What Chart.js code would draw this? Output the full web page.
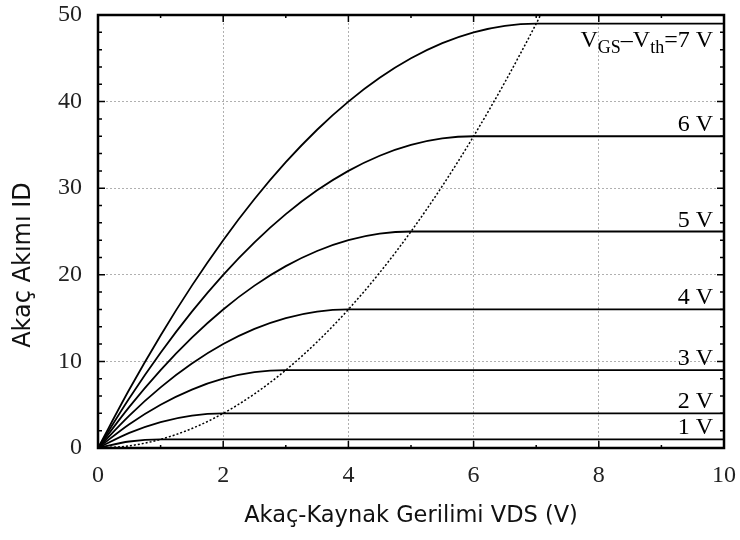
<!DOCTYPE html>
<html>
<head>
<meta charset="utf-8">
<script src="https://cdn.jsdelivr.net/npm/chart.js@4.4.1/dist/chart.umd.min.js"></script>
<style>
    html, body { margin: 0; padding: 0; background: #fff; }
    #wrap { width: 740px; height: 540px; }
</style>
</head>
<body>
<div id="wrap"><canvas id="chart"></canvas></div>
<script>
// VDS değerleri (V) - eğrilerin okunduğu noktalar
const vds = [0, 0.5, 1, 1.5, 2, 2.5, 3, 3.5, 4, 4.5, 5, 5.5, 6, 6.5, 7, 10];

// ID değerleri, her VGS-Vth için
const id1 = [0, 0.75, 1, 1, 1, 1, 1, 1, 1, 1, 1, 1, 1, 1, 1, 1];
const id2 = [0, 1.75, 3, 3.75, 4, 4, 4, 4, 4, 4, 4, 4, 4, 4, 4, 4];
const id3 = [0, 2.75, 5, 6.75, 8, 8.75, 9, 9, 9, 9, 9, 9, 9, 9, 9, 9];
const id4 = [0, 3.75, 7, 9.75, 12, 13.75, 15, 15.75, 16, 16, 16, 16, 16, 16, 16, 16];
const id5 = [0, 4.75, 9, 12.75, 16, 18.75, 21, 22.75, 24, 24.75, 25, 25, 25, 25, 25, 25];
const id6 = [0, 5.75, 11, 15.75, 20, 23.75, 27, 29.75, 32, 33.75, 35, 35.75, 36, 36, 36, 36];
const id7 = [0, 6.75, 13, 18.75, 24, 28.75, 33, 36.75, 40, 42.75, 45, 46.75, 48, 48.75, 49, 49];

// Doyma sınırı (noktalı eğri)
const sinirVds = [0, 0.5, 1, 1.5, 2, 2.5, 3, 3.5, 4, 4.5, 5, 5.5, 6, 6.5, 7, 7.07];
const sinirId = [0, 0.25, 1, 2.25, 4, 6.25, 9, 12.25, 16, 20.25, 25, 30.25, 36, 42.25, 49, 50];

const egriler = [id1, id2, id3, id4, id5, id6, id7];
const etiketler = ['1 V', '2 V', '3 V', '4 V', '5 V', '6 V', '7 V'];
const doymaDegerleri = [1, 4, 9, 16, 25, 36, 49];

const xTicks = [0, 2, 4, 6, 8, 10];
const yTicks = [0, 10, 20, 30, 40, 50];

const serif = '"Liberation Serif", "Times New Roman", serif';
const sans = '"DejaVu Sans", Verdana, sans-serif';

function nokta(xs, ys) {
    return xs.map((x, i) => ({ x: x, y: ys[i] }));
}

const datasets = egriler.map((ys, i) => ({
    label: etiketler[i],
    data: nokta(vds, ys),
    borderColor: '#000',
    borderWidth: 1.8,
    pointRadius: 0,
    cubicInterpolationMode: 'monotone',
    fill: false
}));
datasets.push({
    label: 'sinir',
    data: nokta(sinirVds, sinirId),
    borderColor: '#000',
    borderWidth: 1.5,
    borderDash: [2, 2],
    pointRadius: 0,
    cubicInterpolationMode: 'monotone',
    fill: false
});

// Çerçeve, iç tikler, etiketler ve eksen başlıkları
const cizimEklentisi = {
    id: 'cizim',
    afterDatasetsDraw(chart) {
        const ctx = chart.ctx;
        const a = chart.chartArea;
        const xs = chart.scales.x;
        const ys = chart.scales.y;
        ctx.save();

        // iç tikler
        ctx.strokeStyle = '#000';
        ctx.lineWidth = 1.5;
        ctx.beginPath();
        for (let v = 1; v < 10; v++) {
            const px = xs.getPixelForValue(v);
            const len = v % 2 === 0 ? 7 : 3;
            ctx.moveTo(px, a.bottom); ctx.lineTo(px, a.bottom - len);
            ctx.moveTo(px, a.top); ctx.lineTo(px, a.top + len);
        }
        for (let v = 2; v < 50; v += 2) {
            const py = ys.getPixelForValue(v);
            const len = v % 10 === 0 ? 7 : 4;
            ctx.moveTo(a.left, py); ctx.lineTo(a.left + len, py);
            ctx.moveTo(a.right, py); ctx.lineTo(a.right - len, py);
        }
        ctx.stroke();

        // çerçeve
        ctx.lineWidth = 2.5;
        ctx.strokeRect(a.left, a.top, a.right - a.left, a.bottom - a.top);

        // eğri etiketleri
        ctx.fillStyle = '#000';
        ctx.textBaseline = 'alphabetic';
        const sagX = a.right - 11;
        ctx.font = '24px ' + serif;
        ctx.textAlign = 'right';
        for (let i = 0; i < 6; i++) {
            ctx.fillText(etiketler[i], sagX, ys.getPixelForValue(doymaDegerleri[i]) - 5);
        }
        // VGS-Vth=7 V
        const parcalar = [
            { t: 'V', sub: false },
            { t: 'GS', sub: true },
            { t: '\u2013V', sub: false },
            { t: 'th', sub: true },
            { t: '=' + etiketler[6], sub: false }
        ];
        const anaFont = '24px ' + serif;
        const altFont = '18px ' + serif;
        let toplam = 0;
        parcalar.forEach(p => {
            ctx.font = p.sub ? altFont : anaFont;
            p.w = ctx.measureText(p.t).width;
            toplam += p.w;
        });
        let x = sagX - toplam;
        const taban = ys.getPixelForValue(doymaDegerleri[6]) + 23;
        ctx.textAlign = 'left';
        parcalar.forEach(p => {
            ctx.font = p.sub ? altFont : anaFont;
            ctx.fillText(p.t, x, p.sub ? taban + 6 : taban);
            x += p.w;
        });

        // eksen başlıkları
        ctx.font = '22.5px ' + sans;
        ctx.fillStyle = '#111';
        ctx.textAlign = 'center';
        ctx.textBaseline = 'middle';
        ctx.fillText('Akaç-Kaynak Gerilimi VDS (V)', (a.left + a.right) / 2, 516);
        ctx.translate(24, 265);
        ctx.rotate(-Math.PI / 2);
        ctx.font = '24px ' + sans;
        ctx.fillText('Akaç Akımı ID', 0, 0);
        ctx.restore();
    }
};

new Chart(document.getElementById('chart'), {
    type: 'line',
    data: { datasets: datasets },
    options: {
        responsive: true,
        maintainAspectRatio: false,
        animation: false,
        layout: { padding: { top: 15, right: 16, left: 0, bottom: 0 } },
        plugins: {
            legend: { display: false },
            tooltip: { enabled: false }
        },
        scales: {
            x: {
                type: 'linear',
                min: 0,
                max: 10,
                afterFit: s => {
                    s.height = 92;
                    s.paddingLeft = 0;
                    s.paddingRight = 0;
                },
                afterBuildTicks: s => { s.ticks = xTicks.map(v => ({ value: v })); },
                ticks: {
                    font: { family: serif, size: 24 },
                    color: '#222',
                    padding: 13
                },
                grid: {
                    drawTicks: false,
                    color: ctx => (ctx.tick && (ctx.tick.value === 0 || ctx.tick.value === 10)) ? 'rgba(0,0,0,0)' : '#b0b0b0',
                    lineWidth: 1
                },
                border: { display: false, dash: [2, 2] }
            },
            y: {
                type: 'linear',
                min: 0,
                max: 50,
                afterFit: s => {
                    s.width = 98;
                    s.paddingTop = 0;
                    s.paddingBottom = 0;
                },
                afterBuildTicks: s => { s.ticks = yTicks.map(v => ({ value: v })); },
                ticks: {
                    font: { family: serif, size: 24 },
                    color: '#222',
                    padding: 16
                },
                grid: {
                    drawTicks: false,
                    color: ctx => (ctx.tick && (ctx.tick.value === 0 || ctx.tick.value === 50)) ? 'rgba(0,0,0,0)' : '#b0b0b0',
                    lineWidth: 1
                },
                border: { display: false, dash: [2, 2] }
            }
        }
    },
    plugins: [cizimEklentisi]
});
</script>
</body>
</html>
